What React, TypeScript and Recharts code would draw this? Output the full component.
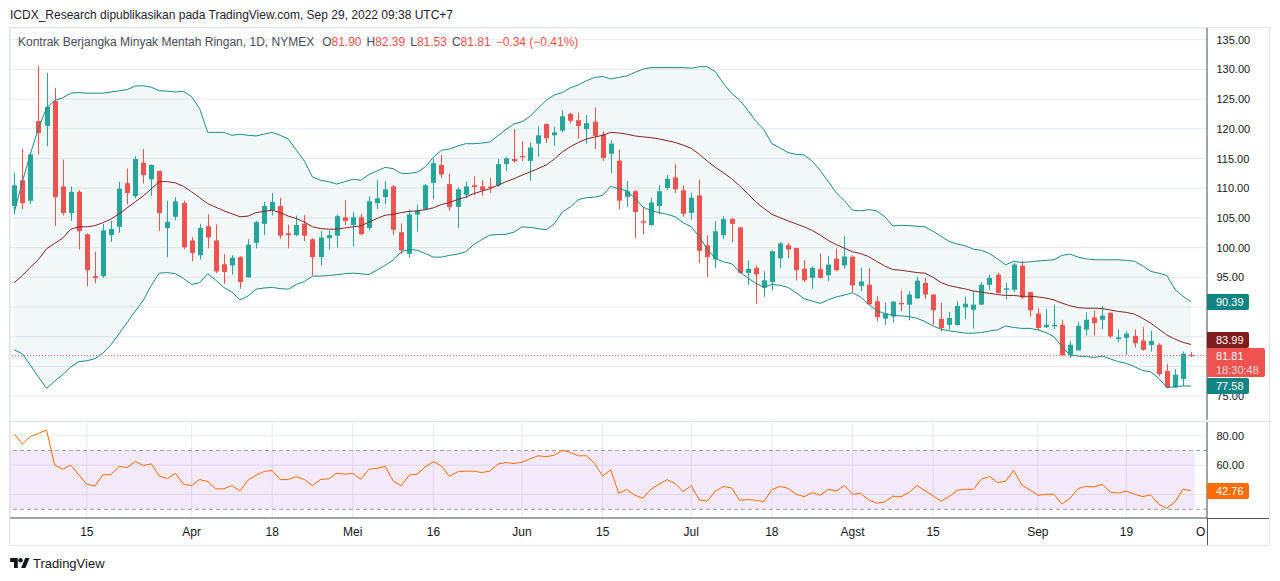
import React from "react";
import {
  ComposedChart,
  Bar,
  Line,
  Area,
  XAxis,
  YAxis,
  CartesianGrid,
  ReferenceLine,
  ReferenceArea,
} from "recharts";

// ---- trading days (2022) ----
const MAR_DAYS = [2, 3, 4, 7, 8, 9, 10, 11, 14, 15, 16, 17, 18, 21, 22, 23, 24, 25, 28, 29, 30, 31];
const APR_DAYS = [1, 4, 5, 6, 7, 8, 11, 12, 13, 14, 18, 19, 20, 21, 22, 25, 26, 27, 28, 29];
const MAY_DAYS = [2, 3, 4, 5, 6, 9, 10, 11, 12, 13, 16, 17, 18, 19, 20, 23, 24, 25, 26, 27, 31];
const JUN_DAYS = [1, 2, 3, 6, 7, 8, 9, 10, 13, 14, 15, 16, 17, 21, 22, 23, 24, 27, 28, 29, 30];
const JUL_DAYS = [1, 5, 6, 7, 8, 11, 12, 13, 14, 15, 18, 19, 20, 21, 22, 25, 26, 27, 28, 29];
const AUG_DAYS = [1, 2, 3, 4, 5, 8, 9, 10, 11, 12, 15, 16, 17, 18, 19, 22, 23, 24, 25, 26, 29, 30, 31];
const SEP_DAYS = [1, 2, 6, 7, 8, 9, 12, 13, 14, 15, 16, 19, 20, 21, 22, 23, 26, 27, 28, 29];

// ---- OHLC ----
const OPEN = [
  107.0, 111.35, 107.9, 121.3, 120.5, 124.66, 110.3, 105.8, 109.4, 102.25,
  95.2, 95.2, 102.1, 103.5, 110.85, 108.65, 114.3, 111.5, 112.9, 103.3,
  105.2, 107.5, 101.2, 98.7, 103.6, 101.2, 97.2, 97.0, 98.4, 95.0,
  100.8, 104.0, 106.3, 107.0, 102.4, 102.1, 104.05, 101.4, 98.4, 101.6,
  102.0, 105.1, 103.8, 105.1, 103.3, 107.5, 108.5, 110.3, 102.6, 98.95,
  105.55, 106.4, 110.9, 113.9, 110.7, 106.85, 108.9, 110.5, 110.3, 110.3,
  110.5, 114.05, 114.9, 115.4, 114.6, 117.5, 120.8, 118.9, 119.7, 122.5,
  121.45, 119.95, 121.2, 119.05, 115.8, 114.65, 108.55, 109.5, 104.45, 103.8,
  107.0, 110.05, 111.8, 109.65, 105.85, 108.8, 100.4, 98.0, 102.1, 104.8,
  103.4, 95.75, 96.55, 93.25, 94.2, 98.2, 100.4, 99.95, 96.45, 94.9,
  96.35, 95.35, 98.15, 97.0, 98.45, 93.55, 93.75, 90.95, 88.05, 88.4,
  90.7, 90.4, 91.45, 94.05, 92.1, 88.0, 87.0, 86.95, 89.95, 89.55,
  90.4, 93.75, 95.45, 92.9, 92.9, 96.95, 92.5, 88.9, 86.6, 86.75,
  87.0, 81.95, 82.7, 86.2, 88.25, 87.85, 89.0, 84.6, 84.8, 85.15,
  84.35, 83.6, 83.65, 79.25, 76.45, 77.9, 81.9,
];
const HIGH = [
  112.6, 116.6, 116.0, 130.56, 129.4, 126.9, 114.8, 110.3, 109.7, 102.4,
  99.3, 104.0, 104.5, 111.1, 113.3, 115.4, 116.6, 114.0, 112.9, 107.9,
  108.5, 107.9, 101.8, 104.0, 105.6, 103.9, 98.9, 98.7, 98.55, 101.4,
  104.5, 107.7, 109.2, 108.4, 103.9, 105.4, 105.45, 101.6, 102.75, 102.9,
  105.6, 108.0, 106.0, 105.7, 108.65, 111.35, 111.2, 110.5, 104.05, 106.4,
  107.25, 110.7, 115.0, 115.6, 112.4, 110.1, 111.1, 112.0, 111.35, 111.75,
  114.9, 115.3, 119.95, 117.9, 117.7, 120.45, 120.9, 120.3, 123.15, 122.7,
  122.75, 122.3, 123.6, 119.6, 118.1, 116.5, 111.2, 109.65, 106.85, 108.4,
  110.5, 112.2, 114.05, 110.5, 109.25, 111.45, 102.1, 104.45, 105.3, 105.05,
  103.5, 97.85, 97.0, 96.0, 99.55, 100.95, 100.8, 99.95, 97.85, 96.85,
  99.0, 98.55, 99.85, 101.9, 98.7, 96.6, 96.6, 91.85, 90.75, 91.0,
  92.8, 92.65, 95.05, 94.9, 92.15, 90.7, 89.15, 90.95, 91.7, 92.65,
  94.2, 95.45, 95.75, 94.05, 97.4, 97.8, 92.55, 89.8, 89.7, 90.4,
  87.85, 84.3, 87.5, 89.15, 89.4, 90.2, 89.15, 86.2, 85.9, 86.2,
  86.6, 86.0, 83.9, 80.45, 79.55, 82.5, 82.39,
];
const LOW = [
  105.6, 106.45, 107.35, 115.7, 117.1, 103.65, 105.4, 104.5, 99.7, 93.5,
  94.0, 94.9, 100.95, 102.5, 107.3, 108.3, 110.8, 108.7, 102.8, 98.4,
  104.6, 99.7, 97.7, 98.0, 99.9, 95.7, 93.9, 95.45, 93.1, 94.9,
  99.9, 102.1, 105.4, 101.5, 99.9, 101.9, 101.1, 95.3, 97.0, 99.7,
  100.0, 103.8, 100.2, 102.1, 102.9, 106.5, 107.3, 102.1, 98.9, 98.3,
  102.65, 106.3, 108.15, 111.75, 106.2, 103.3, 108.3, 108.8, 108.7, 109.2,
  110.2, 112.9, 114.3, 114.6, 111.25, 115.3, 117.6, 117.1, 119.4, 120.9,
  118.4, 117.5, 116.6, 114.6, 112.5, 106.45, 106.85, 101.6, 102.25, 103.65,
  105.6, 109.65, 109.2, 105.2, 104.7, 97.4, 95.05, 96.6, 101.5, 100.95,
  95.6, 93.75, 90.55, 91.7, 92.8, 96.6, 98.25, 94.5, 94.2, 93.1,
  94.8, 94.4, 96.0, 96.45, 92.4, 92.65, 90.3, 87.6, 87.0, 87.4,
  89.3, 87.75, 91.4, 91.35, 87.0, 85.9, 86.2, 86.9, 88.0, 86.35,
  90.3, 92.9, 92.3, 91.25, 92.5, 91.4, 88.4, 86.1, 86.45, 86.3,
  81.7, 81.4, 82.65, 85.2, 85.2, 86.3, 84.8, 84.05, 81.95, 83.2,
  82.65, 82.5, 78.3, 76.35, 76.4, 76.7, 81.53,
];
const CLOSE = [
  110.5, 107.5, 115.7, 119.3, 123.7, 108.5, 105.8, 109.4, 102.8, 96.2,
  94.9, 102.9, 103.15, 109.9, 109.2, 114.9, 112.2, 113.9, 105.8, 104.3,
  107.8, 100.05, 99.1, 103.3, 101.7, 96.0, 95.9, 98.3, 94.2, 100.5,
  104.3, 107.0, 107.7, 102.0, 102.1, 103.8, 102.0, 98.4, 101.7, 102.1,
  105.3, 104.5, 105.1, 102.25, 107.8, 108.3, 109.8, 103.0, 99.55, 105.6,
  106.2, 110.5, 114.2, 112.3, 106.85, 109.8, 110.3, 110.2, 109.65, 110.05,
  114.05, 115.05, 114.55, 115.2, 116.85, 118.9, 118.4, 119.4, 122.1, 121.35,
  120.45, 120.95, 118.8, 115.1, 117.5, 107.9, 109.5, 106.0, 104.2, 107.6,
  109.5, 111.6, 109.8, 105.7, 108.4, 99.45, 98.4, 102.75, 104.8, 104.0,
  95.75, 96.4, 95.5, 94.5, 99.4, 100.7, 99.7, 96.2, 94.5, 96.6,
  94.9, 97.15, 96.2, 98.5, 93.65, 94.3, 90.45, 88.3, 88.9, 90.9,
  90.45, 92.1, 94.45, 92.1, 89.45, 86.45, 88.15, 90.2, 90.55, 90.4,
  93.75, 94.9, 92.35, 93.15, 97.15, 91.6, 89.45, 86.45, 87.0, 87.0,
  81.85, 83.65, 86.85, 87.85, 87.3, 88.55, 85.05, 84.9, 85.5, 83.9,
  82.8, 84.3, 78.7, 76.5, 78.6, 82.15, 81.81,
];

// ---- Bollinger Bands ----
const BB_UPPER = [
  106.0, 111.1, 115.8, 120.1, 123.5, 124.8, 125.2, 126.0, 126.1, 126.0,
  126.0, 126.0, 126.2, 126.4, 126.6, 127.2, 127.25, 127.0, 126.4, 126.35,
  126.2, 126.3, 125.4, 123.4, 119.4, 119.4, 119.4, 118.9, 119.1, 118.9,
  118.8, 119.1, 119.4, 118.9, 118.3, 116.4, 114.55, 111.9, 111.35, 111.1,
  110.7, 111.1, 111.5, 111.35, 112.3, 112.9, 113.5, 113.3, 112.5, 112.5,
  112.7, 113.6, 115.2, 116.4, 116.6, 117.1, 117.5, 117.5, 117.6, 117.8,
  118.8, 119.9, 120.8, 121.2, 122.1, 123.5, 124.8, 125.7, 126.1, 126.9,
  127.4, 128.1, 128.65, 128.8, 128.4, 128.65, 128.9, 129.5, 130.05, 130.3,
  130.3, 130.3, 130.3, 130.3, 130.2, 130.45, 130.45, 129.6, 127.6, 126.0,
  124.8, 123.15, 121.3, 119.9, 117.5, 116.8, 116.0, 115.7, 115.6, 114.55,
  113.0, 111.1, 109.2, 107.9, 106.3, 106.2, 106.4, 106.2, 105.2, 103.65,
  103.76, 103.7, 103.6, 103.5, 102.75, 101.9, 101.05, 100.6, 100.3, 99.75,
  99.55, 99.0, 98.1, 97.1, 97.7, 97.5, 97.6, 97.75, 97.85, 97.95,
  98.7, 98.9, 98.4, 98.1, 97.95, 97.95, 97.95, 97.95, 97.85, 97.7,
  96.95, 96.0, 95.7, 95.3, 93.0, 91.8, 90.9,
];
const BB_MID = [
  94.1, 95.3, 96.7, 98.0, 99.8, 100.7, 101.6, 103.1, 103.5, 103.5,
  103.7, 104.2, 104.8, 105.7, 106.7, 107.7, 108.7, 109.9, 111.1, 111.1,
  110.9, 110.3, 109.4, 108.4, 107.4, 106.8, 106.2, 105.7, 105.2, 105.3,
  105.9, 106.1, 106.3, 105.9, 105.3, 104.9, 104.3, 103.5, 103.2, 103.1,
  103.1, 103.3, 103.5, 103.65, 104.3, 104.9, 105.45, 105.6, 105.9, 106.1,
  106.2, 106.4, 106.7, 107.25, 107.6, 108.1, 108.5, 109.1, 109.5, 109.9,
  110.5, 111.1, 111.6, 112.2, 112.75, 113.3, 113.9, 114.9, 116.1, 117.0,
  117.7, 118.3, 118.6, 118.9, 119.4, 119.3, 119.1, 118.8, 118.65, 118.5,
  118.3, 118.0, 117.7, 117.25, 116.7, 115.7, 114.55, 113.5, 112.6, 111.6,
  110.4, 109.1, 107.7, 106.6, 105.6, 105.05, 104.5, 104.0, 103.5, 102.9,
  102.1, 101.2, 100.5, 99.9, 99.3, 99.0, 98.5, 97.7, 96.9, 96.3,
  96.2, 96.0, 95.8, 95.7, 95.0, 94.1, 93.6, 93.3, 93.05, 92.7,
  92.5, 92.3, 92.1, 91.95, 91.95, 91.8, 91.8, 91.7, 91.5, 91.2,
  90.65, 90.2, 89.9, 89.8, 89.8, 89.75, 89.5, 89.25, 89.1, 88.8,
  88.1, 87.3, 86.3, 85.3, 84.6, 84.05, 83.7,
];
const BB_LOWER = [
  82.8, 82.1, 80.2, 78.2, 76.3, 77.5, 78.6, 79.9, 80.8, 80.95,
  81.3, 82.25, 83.65, 85.5, 87.4, 89.3, 91.1, 93.65, 95.7, 95.8,
  95.6, 94.8, 93.8, 94.1, 95.6, 94.5, 93.3, 92.5, 91.2, 91.85,
  93.0, 93.2, 93.3, 93.1, 93.0, 93.8, 94.3, 95.2, 95.2, 95.3,
  95.45, 95.6, 95.7, 95.6, 95.45, 96.2, 97.0, 97.9, 99.3, 99.7,
  99.55, 99.0, 98.4, 98.4, 98.7, 98.9, 99.3, 100.5, 101.35, 102.1,
  102.2, 102.25, 102.6, 103.5, 103.4, 103.2, 103.0, 104.0, 106.0, 106.85,
  108.1, 108.4, 108.5, 108.8, 110.3, 109.9, 109.55, 108.3, 106.85, 106.2,
  105.9, 105.6, 105.2, 104.2, 103.5, 101.8, 99.7, 98.15, 97.6, 97.3,
  95.9, 94.9, 94.0, 93.3, 93.8, 93.65, 93.3, 92.4, 91.4, 91.0,
  90.6, 91.2, 91.7, 92.0, 92.4, 91.7, 90.45, 89.4, 88.9, 88.6,
  88.5, 88.4, 88.1, 87.55, 86.8, 86.25, 86.0, 85.8, 85.6, 85.6,
  85.7, 85.95, 86.15, 86.8, 86.55, 86.4, 86.4, 86.15, 85.7, 85.0,
  83.3, 81.9, 81.75, 81.65, 81.5, 81.75, 81.25, 80.8, 80.5, 79.95,
  79.3, 79.1, 78.0, 76.4, 76.6, 76.7, 76.7,
];

// ---- RSI (14) ----
const RSI = [
  81.1, 74.3, 79.5, 81.6, 83.9, 60.2, 57.3, 60.0, 53.4, 47.0,
  45.9, 53.4, 53.6, 59.1, 58.4, 62.5, 59.8, 60.9, 52.5, 50.9,
  54.3, 47.0, 46.1, 50.2, 48.9, 43.9, 43.9, 46.1, 42.5, 49.8,
  53.2, 55.7, 56.4, 50.2, 50.2, 52.3, 50.2, 46.1, 50.2, 50.7,
  54.5, 53.9, 54.3, 50.5, 57.3, 57.7, 59.3, 49.3, 46.0, 53.2,
  53.9, 58.9, 62.3, 59.5, 52.3, 55.5, 55.9, 55.9, 55.0, 55.9,
  60.7, 61.8, 61.1, 62.0, 64.3, 66.4, 65.7, 66.8, 70.2, 68.6,
  66.4, 66.4, 61.1, 52.7, 56.8, 40.9, 43.4, 39.5, 37.5, 43.6,
  47.0, 50.2, 47.5, 42.0, 46.1, 36.4, 35.5, 42.5, 45.5, 44.5,
  36.1, 36.6, 36.1, 35.2, 43.4, 45.5, 44.3, 40.2, 38.6, 41.4,
  39.5, 43.6, 42.5, 46.1, 40.2, 40.9, 36.4, 34.1, 35.0, 38.9,
  38.4, 41.4, 46.1, 42.7, 39.1, 35.5, 38.6, 42.95, 43.6, 43.6,
  50.5, 52.3, 48.2, 49.1, 56.4, 46.6, 43.2, 39.5, 40.2, 40.2,
  33.6, 37.5, 44.1, 45.7, 45.2, 47.0, 41.6, 41.1, 42.3, 40.2,
  38.6, 39.8, 33.4, 30.7, 34.8, 43.6, 42.76,
];

// ---- axis ticks ----
const TICK_DATES = [
  "2022-03-15", "2022-04-01", "2022-04-18", "2022-05-02", "2022-05-16", "2022-06-01", "2022-06-15",
  "2022-07-01", "2022-07-18", "2022-08-01", "2022-08-15", "2022-09-01", "2022-09-19",
];
const TICK_LABELS = ["15", "Apr", "18", "Mei", "16", "Jun", "15", "Jul", "18", "Agst", "15", "Sep", "19"];
const PRICE_TICKS = [75, 80, 85, 90, 95, 100, 105, 110, 115, 120, 125, 130, 135];
const PRICE_HIDDEN = [80, 85, 90];
const RSI_TICKS = [40, 60, 80];
const RSI_HIDDEN = [40];

const pad = (n: number) => String(n).padStart(2, "0");
const DATES = [
  ...MAR_DAYS.map((d) => `2022-03-${pad(d)}`),
  ...APR_DAYS.map((d) => `2022-04-${pad(d)}`),
  ...MAY_DAYS.map((d) => `2022-05-${pad(d)}`),
  ...JUN_DAYS.map((d) => `2022-06-${pad(d)}`),
  ...JUL_DAYS.map((d) => `2022-07-${pad(d)}`),
  ...AUG_DAYS.map((d) => `2022-08-${pad(d)}`),
  ...SEP_DAYS.map((d) => `2022-09-${pad(d)}`),
];

const data = DATES.map((date, i) => ({
  date,
  o: OPEN[i],
  h: HIGH[i],
  l: LOW[i],
  c: CLOSE[i],
  range: [LOW[i], HIGH[i]],
  band: [BB_LOWER[i], BB_UPPER[i]],
  upper: BB_UPPER[i],
  mid: BB_MID[i],
  lower: BB_LOWER[i],
  rsi: RSI[i],
}));

const FONT = "'Liberation Sans', Arial, Helvetica, sans-serif";
const UP = "#26a69a";
const DOWN = "#ef5350";
const GRID = "#e6eaef";
const AXIS = "#50535e";
const TEXT = "#131722";
const BAND = "#1f8a87";
const MIDC = "#872323";

const Candle = (props: any) => {
  const { x, y, width, height, payload } = props;
  if (!payload || x == null || y == null) return <g />;
  const top = Math.min(y, y + height);
  const H = Math.abs(height);
  const { o, h, l, c } = payload;
  const color = c >= o ? UP : DOWN;
  const k = h - l === 0 ? 0 : H / (h - l);
  const yo = top + (h - o) * k;
  const yc = top + (h - c) * k;
  const bTop = Math.min(yo, yc);
  const bH = Math.max(1, Math.abs(yc - yo));
  const cx = Math.floor(x + width / 2) + 0.5;
  return (
    <g>
      <line x1={cx} x2={cx} y1={top} y2={top + H} stroke={color} strokeWidth={1} />
      <rect x={cx - 2.5} y={bTop} width={5} height={bH} fill={color} />
    </g>
  );
};

const PriceTick = (p: any) => {
  const v = p.payload?.value;
  if (PRICE_HIDDEN.includes(v)) return <g />;
  return (
    <text x={p.x + 9.5} y={p.y} dominantBaseline="central" fontSize={11} fill={TEXT} fontFamily={FONT}>
      {Number(v).toFixed(2)}
    </text>
  );
};

const RsiTick = (p: any) => {
  const v = p.payload?.value;
  if (RSI_HIDDEN.includes(v)) return <g />;
  return (
    <text x={p.x + 9.5} y={p.y} dominantBaseline="central" fontSize={11} fill={TEXT} fontFamily={FONT}>
      {Number(v).toFixed(2)}
    </text>
  );
};

const TimeTick = (p: any) => {
  const v = p.payload?.value;
  const idx = TICK_DATES.indexOf(v);
  return (
    <text x={p.x} y={p.y + 14} textAnchor="middle" dominantBaseline="central" fontSize={12} fill={TEXT} fontFamily={FONT}>
      {idx >= 0 ? TICK_LABELS[idx] : ""}
    </text>
  );
};

const abs = (s: React.CSSProperties): React.CSSProperties => ({ position: "absolute", ...s });

const LabelBox = ({ top, bg, text, width = 42 }: { top: number; bg: string; text: string; width?: number }) => (
  <div
    style={abs({
      left: 1207,
      top,
      width,
      height: 16,
      background: bg,
      color: "#fff",
      fontSize: 11,
      lineHeight: "16px",
      paddingLeft: 9,
      boxSizing: "border-box",
      borderRadius: "0 2px 2px 0",
      fontFamily: FONT,
    })}
  >
    {text}
  </div>
);

export default function App() {
  return (
    <div style={abs({ left: 0, top: 0, width: 1280, height: 581, background: "#fff", fontFamily: FONT, overflow: "hidden" })}>
      {/* header */}
      <div style={abs({ left: 10, top: 8, fontSize: 12, color: "#1e222d", whiteSpace: "nowrap", lineHeight: "14px" })}>
        ICDX_Research dipublikasikan pada TradingView.com, Sep 29, 2022 09:38 UTC+7
      </div>

      {/* frame */}
      <div style={abs({ left: 9, top: 27, width: 1261, height: 519, border: "1px solid #e0e3eb", boxSizing: "border-box" })} />

      {/* main price pane */}
      <div style={abs({ left: 0, top: 28 })}>
        <ComposedChart width={1269} height={392} data={data} margin={{ top: 0, right: 0, bottom: 0, left: 10.27 }}>
          <CartesianGrid stroke={GRID} />
          <XAxis
            dataKey="date"
            type="category"
            scale="band"
            ticks={TICK_DATES}
            padding={{ left: 0, right: 12 }}
            height={0}
            tick={false}
            axisLine={false}
            tickLine={false}
          />
          <YAxis
            orientation="right"
            width={62}
            domain={[70.98, 136.97]}
            ticks={PRICE_TICKS}
            allowDataOverflow
            tick={PriceTick}
            tickLine={false}
            tickSize={0}
            tickMargin={0}
            axisLine={{ stroke: AXIS }}
          />
          <Area
            dataKey="band"
            type="linear"
            fill="#138484"
            fillOpacity={0.05}
            stroke="none"
            isAnimationActive={false}
            activeDot={false}
          />
          <ReferenceLine y={81.81} stroke={DOWN} strokeDasharray="1 2" />
          <Bar dataKey="range" barSize={5} shape={Candle} isAnimationActive={false} />
          <Line dataKey="upper" type="linear" stroke={BAND} strokeWidth={1} dot={false} activeDot={false} isAnimationActive={false} />
          <Line dataKey="lower" type="linear" stroke={BAND} strokeWidth={1} dot={false} activeDot={false} isAnimationActive={false} />
          <Line dataKey="mid" type="linear" stroke={MIDC} strokeWidth={1} dot={false} activeDot={false} isAnimationActive={false} />
        </ComposedChart>
      </div>

      {/* RSI pane */}
      <div style={abs({ left: 0, top: 421 })}>
        <ComposedChart width={1269} height={124} data={data} margin={{ top: 0, right: 0, bottom: 0, left: 10.27 }}>
          <CartesianGrid stroke={GRID} />
          <ReferenceArea y1={30} y2={70} fill="#9b30e0" fillOpacity={0.1} stroke="none" />
          <ReferenceLine y={70} stroke="#a39cad" strokeDasharray="4 3" />
          <ReferenceLine y={30} stroke="#a39cad" strokeDasharray="4 3" />
          <XAxis
            dataKey="date"
            type="category"
            scale="band"
            ticks={TICK_DATES}
            padding={{ left: 0, right: 12 }}
            height={27}
            tick={TimeTick}
            tickLine={false}
            tickSize={0}
            tickMargin={0}
            axisLine={{ stroke: AXIS }}
          />
          <YAxis
            orientation="right"
            width={62}
            domain={[24.07, 90.03]}
            ticks={RSI_TICKS}
            allowDataOverflow
            tick={RsiTick}
            tickLine={false}
            tickSize={0}
            tickMargin={0}
            axisLine={{ stroke: AXIS }}
          />
          <Line dataKey="rsi" type="linear" stroke="#ff6d00" strokeWidth={1} dot={false} activeDot={false} isAnimationActive={false} />
        </ComposedChart>
      </div>

      {/* pane separator & axis extensions */}
      <div style={abs({ left: 10, top: 421, width: 1259, height: 1, background: "#e0e3eb" })} />
      <div style={abs({ left: 1207, top: 518, width: 62, height: 1, background: AXIS })} />
      <div style={abs({ left: 1207, top: 518, width: 1, height: 27, background: AXIS })} />

      {/* next-month label at the edge */}
      <div style={abs({ left: 1196, top: 525, fontSize: 12, color: TEXT, whiteSpace: "nowrap", lineHeight: "14px" })}>O</div>

      {/* legend */}
      <div style={abs({ left: 18, top: 35, fontSize: 12, lineHeight: "14px", whiteSpace: "nowrap", color: "#4a4e59" })}>
        <span>Kontrak Berjangka Minyak Mentah Ringan, 1D, NYMEX</span>
        <span style={{ marginLeft: 8 }}>O</span>
        <span style={{ color: DOWN }}>81.90</span>
        <span style={{ marginLeft: 5 }}>H</span>
        <span style={{ color: DOWN }}>82.39</span>
        <span style={{ marginLeft: 5 }}>L</span>
        <span style={{ color: DOWN }}>81.53</span>
        <span style={{ marginLeft: 5 }}>C</span>
        <span style={{ color: DOWN }}>81.81</span>
        <span style={{ marginLeft: 5, color: DOWN }}>−0.34 (−0.41%)</span>
      </div>

      {/* price labels */}
      <LabelBox top={294} bg="#138484" text="90.39" />
      <LabelBox top={332} bg="#801c1c" text="83.99" />
      <div
        style={abs({
          left: 1207,
          top: 348,
          width: 58,
          height: 29,
          background: DOWN,
          color: "#fff",
          fontSize: 11,
          lineHeight: "14px",
          paddingLeft: 9,
          paddingTop: 1,
          boxSizing: "border-box",
          borderRadius: "0 2px 2px 0",
        })}
      >
        <div>81.81</div>
        <div style={{ color: "rgba(255,255,255,0.8)" }}>18:30:48</div>
      </div>
      <LabelBox top={378} bg="#138484" text="77.58" />
      <LabelBox top={483} bg="#ff6d00" text="42.76" />

      {/* TradingView logo */}
      <div style={abs({ left: 10, top: 555, display: "flex", alignItems: "center", height: 16 })}>
        <svg width={20} height={12} viewBox="0 0 36 22">
          <path d="M14 20H7V9H0V2h14v18z" fill="#131722" />
          <circle cx="19" cy="6" r="4" fill="#131722" />
          <path d="M28 20h-8l7.5-18h8L28 20z" fill="#131722" />
        </svg>
        <span style={{ marginLeft: 3, fontSize: 13, color: "#131722" }}>TradingView</span>
      </div>
    </div>
  );
}
